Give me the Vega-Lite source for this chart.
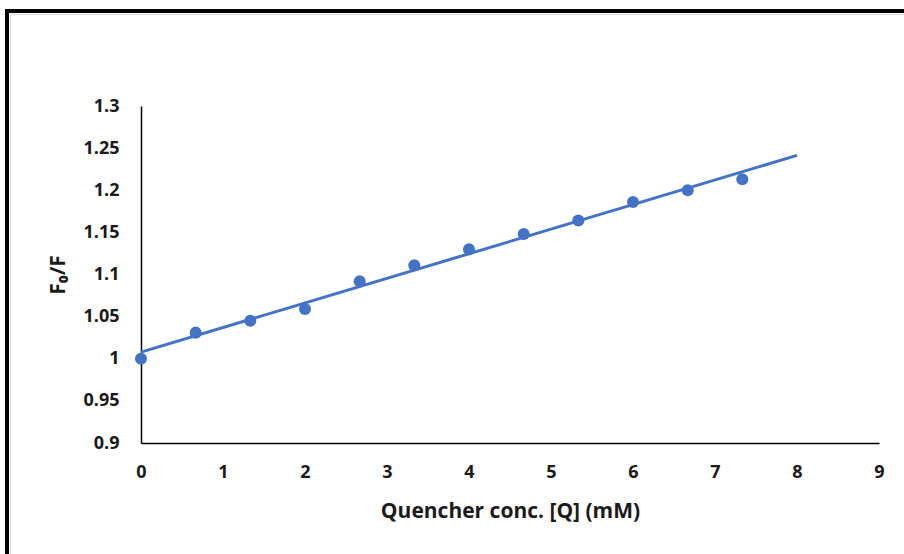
{
  "$schema": "https://vega.github.io/schema/vega-lite/v6.json",
  "autosize": "none",
  "width": 738,
  "height": 337,
  "padding": {"left": 141, "top": 106, "right": 25, "bottom": 111},
  "background": "white",
  "config": {
    "view": {"stroke": null},
    "font": "Open Sans",
    "axis": {
      "grid": false,
      "ticks": false,
      "labelFlush": false,
      "labelOverlap": false,
      "domainColor": "#000000",
      "domainWidth": 1.5,
      "labelFont": "Open Sans",
      "labelFontSize": 18,
      "labelFontWeight": "bold",
      "labelColor": "#1a1a1a",
      "titleFont": "Open Sans",
      "titleFontSize": 21,
      "titleFontWeight": "bold",
      "titleColor": "#1a1a1a"
    }
  },
  "data": {
    "values": [
      {"q": 0, "f": 1.0},
      {"q": 0.667, "f": 1.031},
      {"q": 1.333, "f": 1.045},
      {"q": 2.0, "f": 1.059},
      {"q": 2.667, "f": 1.092},
      {"q": 3.333, "f": 1.111},
      {"q": 4.0, "f": 1.130},
      {"q": 4.667, "f": 1.148},
      {"q": 5.333, "f": 1.164},
      {"q": 6.0, "f": 1.186},
      {"q": 6.667, "f": 1.200},
      {"q": 7.333, "f": 1.213}
    ]
  },
  "layer": [
    {
      "data": {"values": [{"id": "frame"}]},
      "mark": {"type": "rect", "fill": null, "stroke": "#000000", "strokeWidth": 4},
      "encoding": {
        "x": {"datum": -1.634, "type": "quantitative", "scale": {"domain": [0, 9]}},
        "x2": {"datum": 10.5},
        "y": {"datum": 1.4128, "type": "quantitative", "scale": {"domain": [0.9, 1.3]}},
        "y2": {"datum": 0.6}
      }
    },
    {
      "data": {"values": [{"id": "inner"}]},
      "mark": {"type": "rect", "fill": null, "stroke": "#d9d9d9", "strokeWidth": 1},
      "encoding": {
        "x": {"datum": -1.5915, "type": "quantitative"},
        "x2": {"datum": 10.5},
        "y": {"datum": 1.4086, "type": "quantitative"},
        "y2": {"datum": 0.6}
      }
    },
    {
      "mark": {"type": "circle", "size": 145, "opacity": 1, "color": "#4472C4"},
      "encoding": {
        "x": {
          "field": "q", "type": "quantitative",
          "scale": {"domain": [0, 9], "nice": false, "zero": false},
          "axis": {"values": [0,1,2,3,4,5,6,7,8,9], "format": "d", "labelPadding": 20, "titlePadding": 19, "title": "Quencher conc. [Q] (mM)"}
        },
        "y": {
          "field": "f", "type": "quantitative",
          "scale": {"domain": [0.9, 1.3], "nice": false, "zero": false},
          "axis": {"values": [0.9,0.95,1,1.05,1.1,1.15,1.2,1.25,1.3], "format": "~g", "labelPadding": 22, "titlePadding": 14, "title": "F₀/F"}
        }
      }
    },
    {
      "transform": [{"regression": "f", "on": "q", "extent": [0, 8]}],
      "mark": {"type": "line", "color": "#4472C4", "strokeWidth": 3},
      "encoding": {
        "x": {"field": "q", "type": "quantitative"},
        "y": {"field": "f", "type": "quantitative"}
      }
    }
  ]
}
